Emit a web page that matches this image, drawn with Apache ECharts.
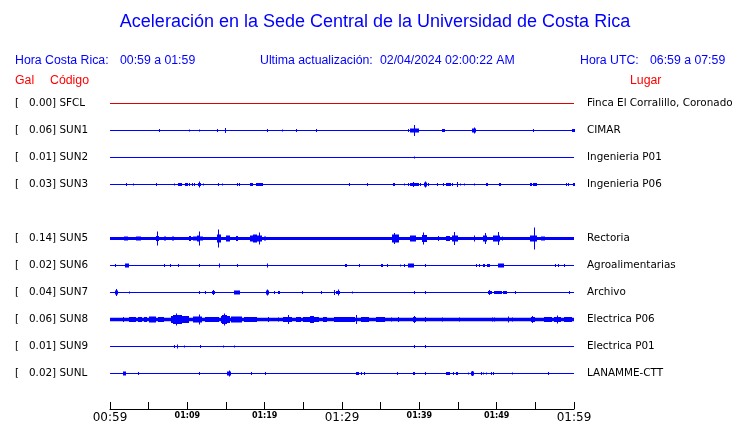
<!DOCTYPE html>
<html><head><meta charset="utf-8">
<script src="https://cdn.jsdelivr.net/npm/echarts@6/dist/echarts.min.js"></script>
<style>html,body{margin:0;padding:0;background:#fff}#c{width:740px;height:423px}</style>
</head><body><div id="c"></div>
<script>
// ---- data ----
const codes  = ['SFCL','SUN1','SUN2','SUN3','SUN4','SUN5','SUN6','SUN7','SUN8','SUN9','SUNL'];
const gal    = ['0.00','0.06','0.01','0.03',null,'0.14','0.02','0.04','0.06','0.01','0.02'];
const places = ['Finca El Corralillo, Coronado','CIMAR','Ingenieria P01','Ingenieria P06','','Rectoria','Agroalimentarias','Archivo','Electrica P06','Electrica P01','LANAMME-CTT'];
const tickLabels = ['00:59','01:09','01:19','01:29','01:39','01:49','01:59'];
// bursts: [start minute, end minute, half amplitude (relative units)]
const bursts_SFCL = [];
const bursts_SUN1 = [[6.38,6.38,1.5],[10.26,10.26,1],[11.55,11.55,1],[13.88,13.88,1.5],[14.91,14.91,2.5],[20.35,20.35,1.5],[22.28,22.28,1],[24.09,24.09,1.5],[26.68,26.68,1.5],[38.58,38.58,1.5],[38.9,39.9,2],[39.35,39.35,5.5],[43.05,43.3,1.5],[46.9,47.3,2],[47.1,47.1,3],[54.74,54.74,1.5],[59.8,60,1.5]];
const bursts_SUN2 = [[39.35,39.35,1]];
const bursts_SUN3 = [[2.07,2.07,1.5],[3.02,3.02,1],[6.03,6.03,1.5],[8.32,8.32,1],[8.9,9.3,1.5],[9.7,10.05,1.5],[10.34,10.34,1.5],[10.69,10.69,1.5],[10.99,10.99,1.5],[11.4,11.7,1.5],[11.55,11.55,3],[12.07,12.07,1],[14.01,14.01,1.5],[14.57,14.57,1],[16.51,16.51,1.5],[16.81,16.81,1.5],[18.19,18.45,1.5],[19.0,19.7,1.5],[30.99,30.99,1.5],[33.28,33.28,1.5],[36.6,36.75,1.5],[38.06,38.06,1],[38.58,38.58,1.5],[38.9,39.9,1.5],[39.22,39.22,2.5],[40.17,40.17,1.5],[40.7,40.95,2],[40.82,40.82,3],[41.16,41.16,1.5],[42.33,42.33,1.5],[43.15,43.15,1.5],[43.5,43.97,1.5],[44.31,44.31,1.5],[44.91,44.91,2.5],[45.26,45.26,1],[45.82,45.82,1],[47.11,47.11,1],[48.65,48.8,1.5],[50.4,50.5,1.5],[54.35,54.5,1.5],[54.8,55.1,1.5],[58.97,58.97,1.5],[59.27,59.27,1.5],[59.95,60,1.5]];
const bursts_SUN4 = [];
const bursts_SUN5 = [[1.9,2.2,2],[3.4,3.9,2],[6.0,6.3,2.5],[6.16,6.16,7],[7.0,7.2,2],[8.05,8.2,2],[10.3,10.4,2.5],[10.8,11.9,2],[11.3,11.6,3],[11.55,11.55,7],[13.95,14.25,4],[14.01,14.01,9],[15.1,15.4,3],[16.3,16.5,2.5],[18.2,19.6,3],[18.6,18.9,4],[19.27,19.27,6],[20.0,20.1,2],[36.5,37.3,4],[36.85,36.85,5.5],[38.9,39.5,3],[40.4,40.9,3.5],[40.6,40.6,6],[42.45,42.45,2.5],[43.5,43.9,2.5],[44.3,44.9,3],[44.6,44.6,6.5],[47.11,47.11,3],[48.3,48.7,3],[48.5,48.5,5.5],[49.6,50.4,3],[50.21,50.21,6.5],[50.77,50.77,2],[54.4,55.2,3],[54.87,54.87,11],[55.8,56.2,2]];
const bursts_SUN6 = [[0.73,0.73,1.5],[2.0,2.35,2],[7.11,7.11,1.5],[7.76,7.76,1.5],[8.84,8.84,1.5],[11.55,11.55,1.5],[14.14,14.14,2],[16.51,16.51,1.5],[20.34,20.34,2],[30.4,30.55,1.5],[32.24,32.24,1.5],[35.05,35.2,1.5],[35.9,35.9,1.5],[37.54,37.54,1],[38.14,38.14,1.5],[38.6,39.3,2],[40.77,40.77,1.5],[47.41,47.41,1.5],[47.84,47.84,1.5],[48.35,48.4,1.5],[48.8,49.05,1.5],[50.3,50.85,2],[57.63,57.63,1.5],[58.06,58.06,1.5],[58.75,58.75,1.5]];
const bursts_SUN7 = [[0.7,1.0,2],[0.86,0.86,3.5],[2.5,2.5,1],[11.55,11.55,1.5],[12.33,12.33,1.5],[13.3,13.45,1.5],[13.36,13.36,2.5],[16.16,16.72,2],[20.2,20.5,2],[20.34,20.34,3],[21.21,21.21,1.5],[21.77,21.95,1.5],[24.95,24.95,1.5],[27.41,27.41,1.5],[29.09,29.09,2.5],[29.3,29.7,1.5],[29.52,29.52,3],[31.34,31.34,1],[39.35,39.35,1.5],[40.82,40.82,1.5],[49.0,49.3,1.5],[49.13,49.13,2.5],[49.75,50.6,1.5],[50.9,51.3,1.5],[52.45,52.45,1.5],[59.48,59.48,1.5]];
const bursts_SUN8 = [[1.72,1.72,2.5],[2.5,3.25,2.5],[3.66,4.1,2.5],[4.52,4.74,2.5],[5.17,5.9,3],[6.25,6.9,2.5],[7.97,10.13,3.5],[8.2,9.3,4.5],[8.6,8.6,6],[10.8,11.85,3],[11.55,11.55,5],[12.3,14.0,2.5],[14.44,15.5,3.5],[14.6,15.1,4.5],[14.8,14.8,6],[15.73,17.02,3],[17.45,18.96,2.5],[20.47,20.47,2.5],[21.77,21.77,2],[22.41,23.5,2.5],[23.05,23.05,4.5],[24.14,24.57,2.5],[25.0,26.94,2.5],[25.9,26.3,3.5],[27.58,28.02,2.5],[29.09,31.68,2.5],[31.89,31.89,4.5],[32.54,33.4,2.5],[34.48,35.56,2.5],[36.42,36.42,2],[37.37,37.37,2.5],[39.2,39.5,2.5],[39.35,39.35,3.5],[40.82,40.82,2.5],[42.97,42.97,2],[45.25,45.25,2],[49.44,49.44,2],[49.78,49.78,2],[51.51,51.51,3],[52.02,52.02,2],[54.44,54.95,2.5],[54.65,54.65,3.5],[56.16,57.11,2.5],[57.54,58.19,2.5],[57.9,57.9,4],[58.83,59.69,2.5]];
const bursts_SUN9 = [[8.4,8.4,1.5],[8.75,8.75,2],[9.61,9.61,1],[11.64,11.64,1.5],[14.65,14.65,1],[16.16,16.16,1],[39.35,39.35,1.5],[40.82,40.82,1.5]];
const bursts_SUNL = [[1.75,1.95,2],[3.66,3.66,1.5],[11.55,11.55,1.5],[15.25,15.55,2],[15.39,15.39,3],[18.32,18.32,1.5],[20.13,20.13,1.5],[31.85,32.1,1.5],[32.54,32.54,1.5],[32.89,32.89,1.5],[37.15,37.15,1.5],[39.2,39.4,1.5],[40.82,40.82,1.5],[43.5,43.85,1.5],[44.48,44.48,1.5],[44.85,44.95,1.5],[46.33,46.33,1],[46.76,46.98,2],[46.9,46.9,2.5],[48.06,48.06,1.5],[48.27,48.27,1],[48.7,48.7,1],[49.35,49.35,1.5],[49.65,49.65,1.5],[52.02,52.02,1],[56.68,56.68,1.5]];

const burstsByCode = {SFCL:bursts_SFCL,SUN1:bursts_SUN1,SUN2:bursts_SUN2,SUN3:bursts_SUN3,SUN4:bursts_SUN4,SUN5:bursts_SUN5,SUN6:bursts_SUN6,SUN7:bursts_SUN7,SUN8:bursts_SUN8,SUN9:bursts_SUN9,SUNL:bursts_SUNL};

// ---- styles ----
const BLUE = '#0000ff', RED = '#e00000';
const AMP_PER_ROW = 27; // relative amplitude units per row spacing
const baseWidth = {SFCL:1,SUN5:3,SUN8:3.4};
const HFONT = 'Liberation Sans, Arial, sans-serif';
const LFONT = 'DejaVu Sans, sans-serif';
const HSIZE = 12.3, LSIZE = 10.4;

const chart = echarts.init(document.getElementById('c'), null, {renderer:'canvas'});
const series = [];
codes.forEach((code, row) => {
  if (gal[row] == null) return;
  const color = code === 'SFCL' ? RED : BLUE;
  series.push({
    type:'line', xAxisIndex:0, yAxisIndex:0, silent:true, symbol:'none', animation:false,
    data:[[0,row],[60,row]],
    lineStyle:{color, width: baseWidth[code] || 1}
  });
  series.push({
    type:'custom', xAxisIndex:0, yAxisIndex:0, silent:true, animation:false,
    data: burstsByCode[code].map(b => [b[0], b[1], b[2], row]),
    encode:{x:[0,1], y:3},
    renderItem:(params, api) => {
      const p0 = api.coord([api.value(0), api.value(3)]);
      const p1 = api.coord([api.value(1), api.value(3)]);
      const rowPx = Math.abs(api.coord([0,1])[1] - api.coord([0,0])[1]);
      const a = api.value(2) * rowPx / AMP_PER_ROW;
      const x0 = Math.floor(p0[0]), x1 = Math.floor(p1[0]) + 1;
      return {type:'rect', shape:{x:x0, y:p0[1]-a, width:Math.max(x1-x0,1), height:2*a}, style:{fill:color}};
    }
  });
});

const txt = (x, y, text, fill, size, align) => ({type:'text', x, y, silent:true,
  style:{text, font: size + 'px ' + HFONT, fill, verticalAlign:'middle', align: align || 'left'}});

chart.setOption({
  animation:false,
  backgroundColor:'#fff',
  grid:{left:110, right:166, top:103.5, bottom:49.5, containLabel:false, outerBoundsMode:'none'},
  xAxis:{type:'value', min:0, max:60, interval:5, position:'bottom', offset:35.5,
    axisLine:{show:true, onZero:false, lineStyle:{color:'#000', width:1}},
    axisTick:{show:true, inside:true, length:7, lineStyle:{color:'#000', width:1}},
    splitLine:{show:false},
    axisLabel:{margin:2, showMinLabel:true, showMaxLabel:true,
      formatter:(v) => {
        if (v % 10 !== 0) return '';
        const t = tickLabels[v/10];
        return (v % 30 === 0) ? '{b|' + t + '}' : '{s|' + t + '}';
      },
      rich:{
        b:{fontFamily:LFONT, fontSize:12, lineHeight:14, color:'#000'},
        s:{fontFamily:LFONT, fontSize:8, fontWeight:'bold', lineHeight:10, color:'#000'}
      }}
  },
  yAxis:[
    {type:'category', data:codes, inverse:true, boundaryGap:false,
      axisLine:{show:false}, axisTick:{show:false}, splitLine:{show:false},
      axisLabel:{margin:95, align:'left', fontFamily:LFONT, fontSize:LSIZE, color:'#000', interval:0,
        formatter:(v, i) => gal[i] == null ? '' : '[   ' + gal[i] + '] ' + codes[i]}},
    {type:'category', data:codes, inverse:true, boundaryGap:false, position:'right',
      axisLine:{show:false}, axisTick:{show:false}, splitLine:{show:false},
      axisLabel:{margin:13, align:'left', fontFamily:LFONT, fontSize:LSIZE, color:'#000', interval:0,
        formatter:(v, i) => places[i]}}
  ],
  graphic:[
    txt(375, 22, 'Aceleración en la Sede Central de la Universidad de Costa Rica', BLUE, 18, 'center'),
    txt(15, 61, 'Hora Costa Rica:', BLUE, HSIZE),
    txt(120, 61, '00:59 a 01:59', BLUE, HSIZE),
    txt(260, 61, 'Ultima actualización:', BLUE, HSIZE),
    txt(380, 61, '02/04/2024 02:00:22 AM', BLUE, HSIZE),
    txt(580, 61, 'Hora UTC:', BLUE, HSIZE),
    txt(650, 61, '06:59 a 07:59', BLUE, HSIZE),
    txt(15, 81, 'Gal', '#ff0000', HSIZE),
    txt(50, 81, 'Código', '#ff0000', HSIZE),
    txt(630, 81, 'Lugar', '#ff0000', HSIZE)
  ],
  series
});
</script></body></html>
